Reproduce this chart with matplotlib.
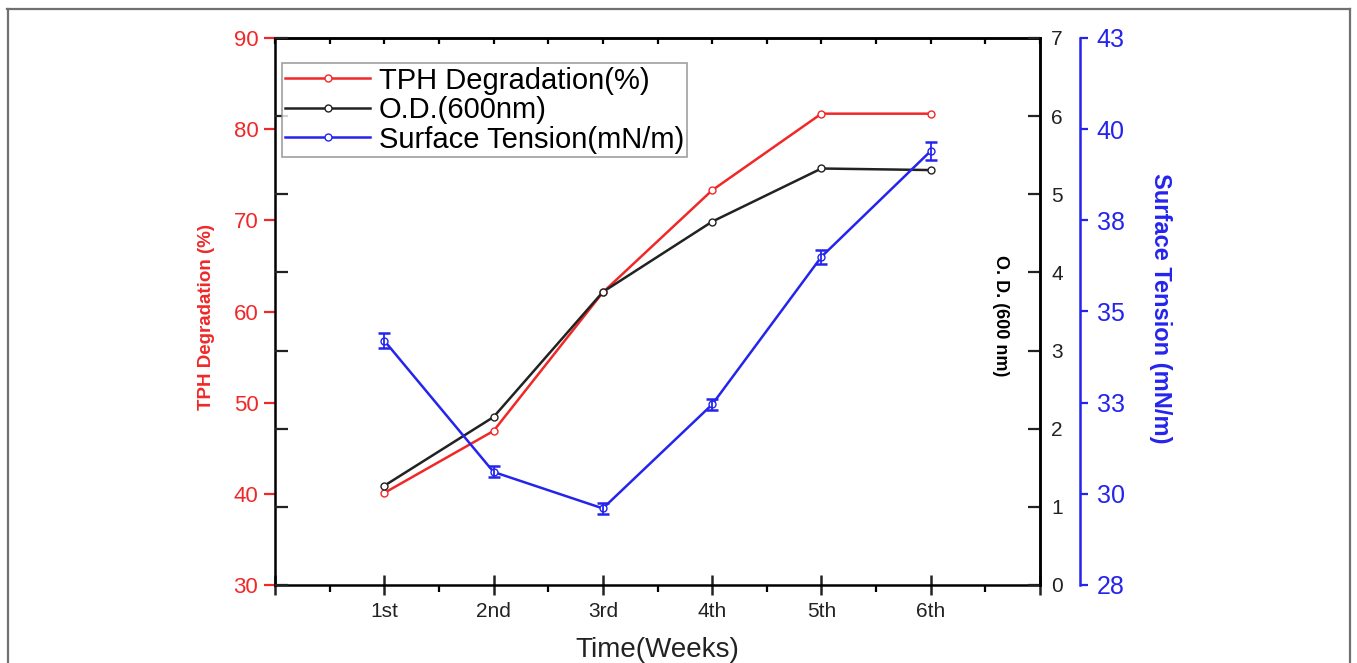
import matplotlib
matplotlib.use("Agg")
import matplotlib.pyplot as plt
from matplotlib.lines import Line2D
import numpy as np

plt.rcParams['font.family'] = ['Liberation Sans', 'DejaVu Sans']

# ---------------- data ----------------
weeks = ['1st', '2nd', '3rd', '4th', '5th', '6th']
tph_degradation = [40.1, 46.9, 62.1, 73.3, 81.7, 81.7]
od_600 = [1.27, 2.15, 3.75, 4.65, 5.33, 5.31]
surface_tension = [34.2, 30.6, 29.6, 32.45, 36.5, 39.4]
surface_tension_err = [0.2, 0.15, 0.15, 0.15, 0.2, 0.25]

tph_ticks = [30, 40, 50, 60, 70, 80, 90]
od_ticks = [0, 1, 2, 3, 4, 5, 6, 7]
st_ticks = [27.5, 30, 32.5, 35, 37.5, 40, 42.5]
st_labels = ['28', '30', '33', '35', '38', '40', '43']

RED = '#f02828'
BLUE = '#2424ee'
BLACK = '#222222'

fig = plt.figure(figsize=(13.57, 6.63), dpi=100)
ax = fig.add_axes([275/1357, 1-585/663, (1040-275)/1357, (585-38)/663])
ax2 = ax.twinx()
ax3 = ax.twinx()

x = np.arange(1, len(weeks) + 1)

# ---- series ----
l1, = ax.plot(x, tph_degradation, color=RED, lw=1.8, marker='o', ms=5,
              mfc='white', mec=RED, mew=1.0, label='TPH Degradation(%)')
l2, = ax2.plot(x, od_600, color=BLACK, lw=1.8, marker='o', ms=5,
               mfc='white', mec=BLACK, mew=1.0, label='O.D.(600nm)')
l3, = ax3.plot(x, surface_tension, color=BLUE, lw=1.8, marker='o', ms=5,
               mfc='white', mec=BLUE, mew=1.0, label='Surface Tension(mN/m)')
ax3.errorbar(x, surface_tension, yerr=surface_tension_err, fmt='none',
             ecolor=BLUE, elinewidth=1.3, capsize=4.5, capthick=1.8)

# ---- x axis ----
ax.set_xlim(0, 7)
ax.set_xticks(np.arange(0, 8))
ax.set_xticklabels([''] + weeks + [''])
ax.set_xticks(np.arange(0.5, 7, 1), minor=True)
ax.tick_params(axis='x', which='major', direction='inout', length=14, width=1.8,
               pad=5, labelsize=15, colors=BLACK, top=False)
ax.tick_params(axis='x', which='minor', direction='out', length=5, width=1.6,
               top=False)
ax.set_xlabel('Time(Weeks)', fontsize=20, color=BLACK)
ax.xaxis.set_label_coords(0.5, -0.118)
ax.xaxis.label.set_va('center')

sec = ax.secondary_xaxis('top')
sec.set_xticks(np.arange(0, 7.5, 0.5))
sec.tick_params(axis='x', direction='in', length=4.5, width=1.6, labeltop=False)
sec.spines['top'].set_linewidth(1.8)

# ---- left axis (TPH) ----
ax.set_ylim(30, 90)
ax.set_yticks(tph_ticks)
ax.tick_params(axis='y', direction='out', length=8, width=1.6, pad=4,
               colors=RED, labelsize=16, right=False)
ax.set_ylabel('TPH Degradation (%)', fontsize=13.5, fontweight='bold', color=RED)
ax.yaxis.label.set(ha='center', va='center')
ax.yaxis.set_label_coords(-0.09, 0.49)

# ---- right axis (O.D.) ----
ax2.set_ylim(0, 7)
ax2.set_yticks(od_ticks)
ax2.tick_params(axis='y', direction='in', length=9, width=1.6, pad=8,
                colors=BLACK, labelsize=15, left=True, right=True,
                labelleft=False, labelright=True)
ax2.set_ylabel('O. D. (600 nm)', fontsize=13, fontweight='bold', color='black',
               rotation=270)
ax2.yaxis.label.set(ha='center', va='center')
ax2.yaxis.set_label_coords(0.948, 0.492)

# ---- far-right axis (Surface tension) ----
ax3.set_ylim(27.5, 42.5)
ax3.spines['right'].set_position(('axes', 1.0523))
ax3.set_yticks(st_ticks)
ax3.set_yticklabels(st_labels)
ax3.tick_params(axis='y', direction='out', length=6, width=1.6, pad=6,
                colors=BLUE, labelsize=18)
ax3.spines['right'].set_color(BLUE)
ax3.spines['right'].set_linewidth(1.8)
for s in ['left', 'top', 'bottom']:
    ax3.spines[s].set_visible(False)
ax3.set_ylabel('Surface Tension (mN/m)', fontsize=17, fontweight='bold',
               color=BLUE, rotation=270)
ax3.yaxis.label.set(ha='center', va='center')
ax3.yaxis.set_label_coords(1.157, 0.506)

for a in (ax, ax2):
    for s in a.spines.values():
        s.set_linewidth(1.8)
        s.set_color('black')
ax2.spines['left'].set_visible(False)
ax2.spines['top'].set_visible(False)
ax2.spines['bottom'].set_visible(False)

# ---- legend ----
leg = ax3.legend(handles=[l1, l2, l3], loc='upper left',
                 bbox_to_anchor=(0.009, 0.954), borderaxespad=0,
                 fontsize=21, frameon=True, fancybox=False,
                 handlelength=2.9, handletextpad=0.3, labelspacing=0.05,
                 borderpad=0.12)
leg.get_frame().set_edgecolor('#888888')
leg.get_frame().set_linewidth(1.2)

# ---- outer frame ----
frame_kw = dict(color='#707070', lw=1.6, transform=fig.transFigure)
fig.add_artist(Line2D([7/1357, 1350/1357], [1-9/663, 1-9/663], **frame_kw))
fig.add_artist(Line2D([7.5/1357, 7.5/1357], [0, 1-9/663], **frame_kw))
fig.add_artist(Line2D([1349.5/1357, 1349.5/1357], [0, 1-9/663], **frame_kw))

fig.savefig('out.png', dpi=100, facecolor='white')
